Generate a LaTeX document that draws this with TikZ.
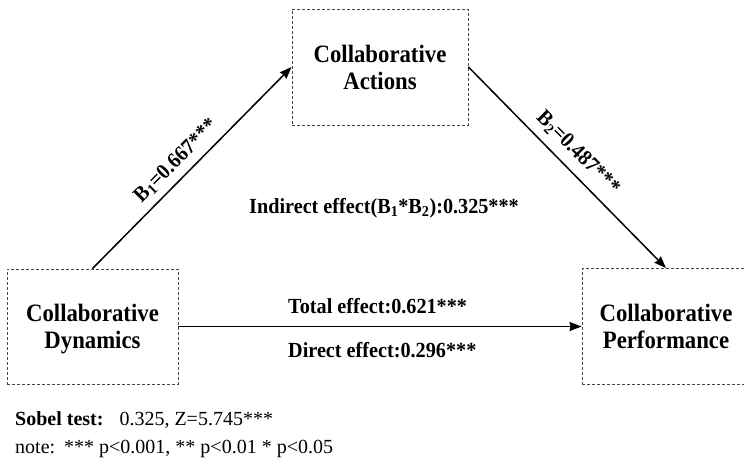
\documentclass[tikz,border=0pt]{standalone}
\usepackage{fontspec}
\setmainfont{Liberation Serif}
\newfontfamily\boxfont[FakeStretch=0.91]{Liberation Serif}
\newfontfamily\labfont[FakeStretch=0.94]{Liberation Serif}
\usetikzlibrary{arrows.meta}
\definecolor{boxgray}{RGB}{70,70,70}
\begin{document}
\begin{tikzpicture}[x=1pt,y=-1pt,
  boxnode/.style={draw=boxgray, dash pattern=on 3pt off 2pt, line width=0.9pt, align=center,
    font=\boxfont\fontsize{25}{27}\selectfont\bfseries, text depth=0pt, inner sep=0pt},
  conn/.style={line width=1.5pt, -{Stealth[length=12pt,width=9pt,inset=1pt]}},
  lab/.style={font=\labfont\fontsize{21.5}{24}\selectfont\bfseries, inner sep=0pt},
  plain/.style={font=\fontsize{20}{24}\selectfont, inner sep=0pt, anchor=base west},
]
\useasboundingbox (0,0) rectangle (744,464);
\clip (0,0) rectangle (744,464);

\node[boxnode, minimum width=171pt, minimum height=115pt] (dyn) at (92.5,326.5) {Collaborative\\Dynamics};
\node[boxnode, minimum width=176pt, minimum height=116pt] (ca) at (380,67) {Collaborative\\Actions};
\node[boxnode, minimum width=168pt, minimum height=116pt] (perf) at (666,326.5) {Collaborative\\Performance};

\draw[conn] (dyn.north) -- (ca.west);
\draw[conn] (ca.east) -- (perf.north);
\draw[conn] (dyn.east) -- (perf.west);

\node[lab, rotate=45] (b1) at (176,161) {B\textsubscript{1}=0.667***};
\node[lab, rotate=-45] (b2) at (578,153) {B\textsubscript{2}=0.487***};
\node[lab, anchor=base] (ind) at (384,213) {Indirect effect(B\textsubscript{1}*B\textsubscript{2}):0.325***};
\node[lab, anchor=base west] (tot) at (288,313) {Total effect:0.621***};
\node[lab, anchor=base west] (dir) at (288,357) {Direct effect:0.296***};

\node[plain] (sobel) at (15,425) {\textbf{Sobel test:}\hspace{16pt}0.325, Z=5.745***};
\node[plain] (note) at (15,453) {note:\hspace{9pt}*** p<0.001, ** p<0.01 * p<0.05};
\end{tikzpicture}
\end{document}
